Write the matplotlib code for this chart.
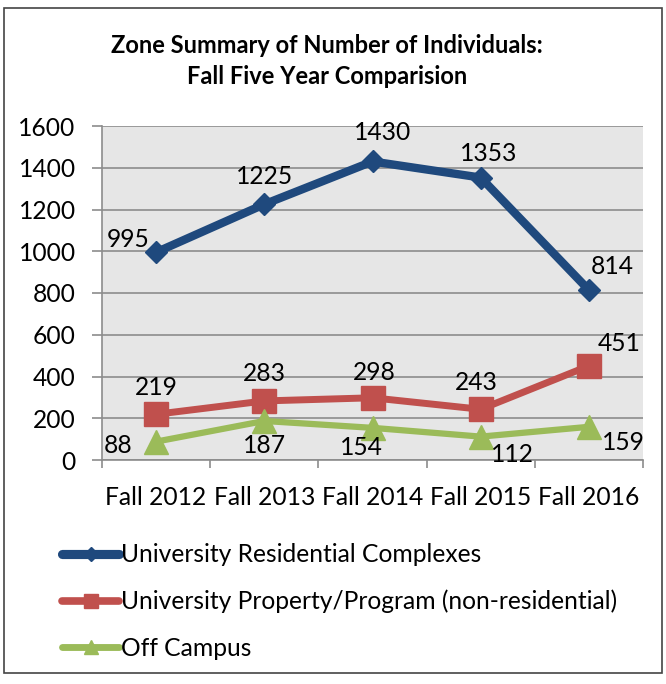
import matplotlib
matplotlib.use("Agg")
import matplotlib.pyplot as plt
from matplotlib.patches import Rectangle
from matplotlib.lines import Line2D

plt.rcParams['font.family'] = ['Lato', 'DejaVu Sans']

categories = ["Fall 2012", "Fall 2013", "Fall 2014", "Fall 2015", "Fall 2016"]
residential = [995, 1225, 1430, 1353, 814]
property_program = [219, 283, 298, 243, 451]
off_campus = [88, 187, 154, 112, 159]
series_names = ["University Residential Complexes",
                "University Property/Program (non-residential)",
                "Off Campus"]
title = "Zone Summary of Number of Individuals:\nFall Five Year Comparision"

# label offsets in points (dx, dy)
res_off = [(-20, 9), (0, 20), (7, 21), (6, 17), (17, 17)]
prop_off = [(0, 19), (0, 20), (1, 18), (-3, 19), (22, 16)]
off_off = [(-27, -3), (0, -18), (-8, -14), (23, -13), (25, -11)]

blue = "#1F497D"
red = "#C0504D"
green = "#9BBB59"
fs = 17.7

fig = plt.figure(figsize=(6.66, 6.84), dpi=100)
fig.patches.append(Rectangle((4/666, 1 - 673/684), (662-4)/666, (673-8)/684,
                             transform=fig.transFigure, fill=False,
                             edgecolor="#444444", linewidth=1.2))
ax = fig.add_axes([102/666, 1 - 460/684, (643-102)/666, (460-126)/684])
ax.set_facecolor("#E6E6E6")

x = list(range(len(categories)))
series = [(residential, blue, 'D', 11.5, 6, res_off),
          (property_program, red, 's', 17, 5, prop_off),
          (off_campus, green, '^', 17, 4.5, off_off)]
handles = []
for (vals, col, mk, ms, lw, offs), name in zip(series, series_names):
    ax.plot(x, vals, color=col, marker=mk, markersize=ms, linewidth=lw,
            solid_joinstyle='round', zorder=3)
    for xi, v, (dx, dy) in zip(x, vals, offs):
        ax.annotate(str(v), (xi, v), xytext=(dx, dy), textcoords='offset points',
                    ha='center', va='center', fontsize=fs, color='black', zorder=4)
    handles.append(Line2D([0], [0], color=col, marker=mk, markersize=ms * 0.6,
                          linewidth=lw * 1.1, solid_capstyle='round'))

ax.set_xlim(-0.5, 4.5)
ax.set_ylim(0, 1600)
ax.set_yticks(range(0, 1601, 200))
ax.grid(axis='y', color='#8C8C8C', linewidth=1.2, zorder=0)
ax.set_axisbelow(True)
ax.set_xticks(x)
ax.set_xticklabels(categories, fontsize=fs)
ax.set_xticks([i - 0.5 for i in range(len(categories) + 1)], minor=True)
ax.tick_params(axis='x', which='major', length=0, pad=19)
ax.tick_params(axis='x', which='minor', length=6, width=1.2, color='#8C8C8C', direction='out')
ax.tick_params(axis='y', labelsize=fs, length=7, width=1.2, color='#8C8C8C', pad=12)
for s in ['top', 'right']:
    ax.spines[s].set_visible(False)
for s in ['left', 'bottom']:
    ax.spines[s].set_color('#8C8C8C')
    ax.spines[s].set_linewidth(1.2)

fig.text(327/666, 1 - 61/684, title, ha='center', va='center', fontsize=17,
         fontweight='bold', linespacing=1.4)

fig.legend(handles, series_names, loc='upper left',
           bbox_to_anchor=(50/666, 1 - 531/684), frameon=False, fontsize=fs,
           handlelength=2.3, handletextpad=0.1, labelspacing=0.96, borderpad=0)

fig.savefig("out.png", dpi=100)
